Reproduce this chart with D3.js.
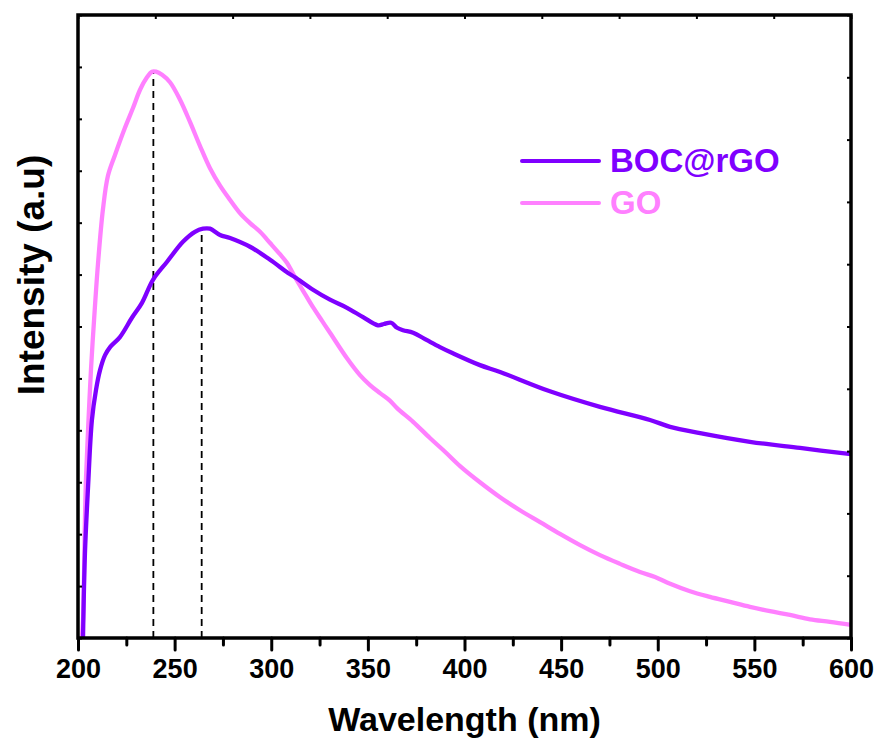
<!DOCTYPE html>
<html>
<head>
<meta charset="utf-8">
<script src="https://cdn.jsdelivr.net/npm/d3@7"></script>
<style>
  body { margin: 0; background: #fff; }
  svg text { font-family: "Liberation Sans", Arial, sans-serif; font-weight: bold; }
</style>
</head>
<body>
<div id="chart"></div>
<script>
// wavelength (nm) and intensity (a.u., 0-100)
var goWave = [202, 202.6, 203.6, 204.1, 205.2, 206.7, 208.3, 210.3, 212.9, 215.5, 219.1, 224.3, 228.5, 232.1,
  235.7, 238.3, 240.4, 243.5, 247.6, 252.8, 258, 263.1, 268.3, 273.5, 278.7, 283.8, 289, 294.2, 299.4,
  304.5, 308.2, 312.3, 317.5, 321.6, 326.3, 330.4, 339.2, 345.9, 351.1, 356.3, 361.4, 365.1, 373.4, 382.1, 389.9,
  397.7, 408, 418.4, 428.7, 439.1, 449.4, 459.8, 470.1, 480.5, 490.8, 498.6, 506.4, 516.7, 527, 537.4,
  547.7, 558.1, 568.4, 578.8, 589.1, 600];
var goInt = [0, 2.9, 18.9, 25.4, 33.4, 43.0, 51.0, 59.9, 68.8, 74.2, 77.5, 81.9, 85.1, 88.0,
  90.0, 90.9, 90.9, 90.4, 89.2, 86.4, 82.8, 79.0, 75.4, 72.6, 70.3, 68.2, 66.6, 65.2, 63.4,
  61.6, 60.2, 57.9, 55.2, 53.1, 50.9, 49.0, 44.9, 42.2, 40.6, 39.3, 38.1, 36.9, 34.7, 32.1, 29.9,
  27.6, 25.0, 22.6, 20.5, 18.6, 16.7, 14.9, 13.3, 11.9, 10.6, 9.8, 8.7, 7.5, 6.6, 5.8,
  5.0, 4.3, 3.7, 3.0, 2.6, 2.1];

var bocWave = [202.6, 203.6, 205.2, 207.2, 209.3, 211.4, 214, 216.6, 221.7, 227.9, 233.1, 238.8, 246.1,
  254.3, 260.5, 264.7, 268.3, 273.5, 278.7, 289, 299.4, 308.7, 312.3, 321.6, 330.4, 339.2, 347.5,
  355.2, 358.3, 362, 365.1, 368.2, 373.4, 380.6, 387.3, 394, 408, 418.4, 444.2, 470.1, 496, 506.4,
  521.9, 547.7, 573.6, 600];
var bocInt = [0, 13.6, 24.2, 35.0, 39.8, 43.0, 45.4, 46.7, 48.3, 51.4, 53.8, 57.5, 60.4,
  63.6, 65.2, 65.7, 65.7, 64.7, 64.2, 62.8, 60.7, 58.6, 57.9, 55.9, 54.3, 53.0, 51.5,
  50.2, 50.4, 50.6, 49.8, 49.4, 49.0, 47.8, 46.7, 45.7, 43.8, 42.7, 39.6, 37.1, 35.0, 33.9,
  32.9, 31.5, 30.5, 29.5];

var peakWave = [239, 264];
var peakInt = [90.9, 65.7];

var seriesNames = ["BOC@rGO", "GO"];
var seriesColors = ["#7f00ff", "#ff80ff"];
var xTicks = [200, 250, 300, 350, 400, 450, 500, 550, 600];
var xMinor = [225, 275, 325, 375, 425, 475, 525, 575];

(function() {
  var W = 880, H = 748;
  var pLeft = 78, pRight = 851, pTop = 15, pBottom = 638;

  var svg = d3.select("#chart").append("svg")
    .attr("width", W).attr("height", H);

  var x = d3.scaleLinear().domain([200, 600]).range([pLeft, pRight]);
  var y = d3.scaleLinear().domain([0, 100]).range([pBottom, pTop]);

  var line = d3.line()
    .x(function(d) { return x(d[0]); })
    .y(function(d) { return y(d[1]); })
    .curve(d3.curveCatmullRom.alpha(0.5));

  // dashed peak markers
  svg.selectAll(".peak")
    .data(d3.zip(peakWave, peakInt))
    .enter().append("line")
    .attr("x1", function(d) { return x(d[0]); })
    .attr("x2", function(d) { return x(d[0]); })
    .attr("y1", y(0))
    .attr("y2", function(d) { return y(d[1]); })
    .attr("stroke", "#000").attr("stroke-width", 1.8)
    .attr("stroke-dasharray", "7,5");

  // curves, GO under BOC
  var series = [d3.zip(bocWave, bocInt), d3.zip(goWave, goInt)];
  [1, 0].forEach(function(i) {
    svg.append("path")
      .datum(series[i])
      .attr("d", line)
      .attr("fill", "none")
      .attr("stroke", seriesColors[i])
      .attr("stroke-width", 4.3)
      .attr("stroke-linejoin", "round");
  });

  // bottom axis
  var xAxis = svg.append("g")
    .attr("transform", "translate(0," + pBottom + ")")
    .call(d3.axisBottom(x).tickValues(xTicks).tickSize(12).tickPadding(9));
  xAxis.select(".domain").remove();
  xAxis.selectAll(".tick line").attr("stroke-width", 3).attr("stroke-linecap", "round");
  xAxis.selectAll(".tick text").attr("font-size", 27).attr("fill", "#000");

  var xMinorAxis = svg.append("g")
    .attr("transform", "translate(0," + pBottom + ")")
    .call(d3.axisBottom(x).tickValues(xMinor).tickSize(7).tickFormat(""));
  xMinorAxis.select(".domain").remove();
  xMinorAxis.selectAll(".tick line").attr("stroke-width", 3).attr("stroke-linecap", "round");

  // tiny inward ticks on the other sides
  var yl = svg.append("g").attr("transform", "translate(" + pLeft + ",0)")
    .call(d3.axisLeft(y).tickValues(d3.range(13).map(function(i) { return i * 100 / 12; }))
      .tickSize(-4).tickFormat(""));
  var yr = svg.append("g").attr("transform", "translate(" + pRight + ",0)")
    .call(d3.axisRight(y).tickValues(d3.range(11).map(function(i) { return i * 10; }))
      .tickSize(-4).tickFormat(""));
  var xt = svg.append("g").attr("transform", "translate(0," + pTop + ")")
    .call(d3.axisTop(x).tickValues(d3.range(11).map(function(i) { return 200 + i * 40; }))
      .tickSize(-4).tickFormat(""));
  [yl, yr, xt].forEach(function(g) {
    g.select(".domain").remove();
    g.selectAll(".tick line").attr("stroke-width", 2);
  });

  // frame
  svg.append("rect")
    .attr("x", pLeft).attr("y", pTop)
    .attr("width", pRight - pLeft).attr("height", pBottom - pTop)
    .attr("fill", "none").attr("stroke", "#000").attr("stroke-width", 3.5);

  // axis titles
  svg.append("text")
    .attr("x", (pLeft + pRight) / 2).attr("y", 731)
    .attr("text-anchor", "middle").attr("font-size", 34)
    .text("Wavelength (nm)");

  svg.append("text")
    .attr("transform", "translate(44,275) rotate(-90)")
    .attr("text-anchor", "middle").attr("font-size", 37)
    .text("Intensity (a.u)");

  // legend
  var legend = svg.append("g");
  seriesNames.forEach(function(name, i) {
    var ly = 161 + i * 42;
    legend.append("line")
      .attr("x1", 522).attr("x2", 599).attr("y1", ly).attr("y2", ly)
      .attr("stroke", seriesColors[i]).attr("stroke-width", 4).attr("stroke-linecap", "round");
    legend.append("text")
      .attr("x", 610).attr("y", ly + 11)
      .attr("font-size", 33).attr("fill", seriesColors[i])
      .text(name);
  });
})();
</script>
</body>
</html>
